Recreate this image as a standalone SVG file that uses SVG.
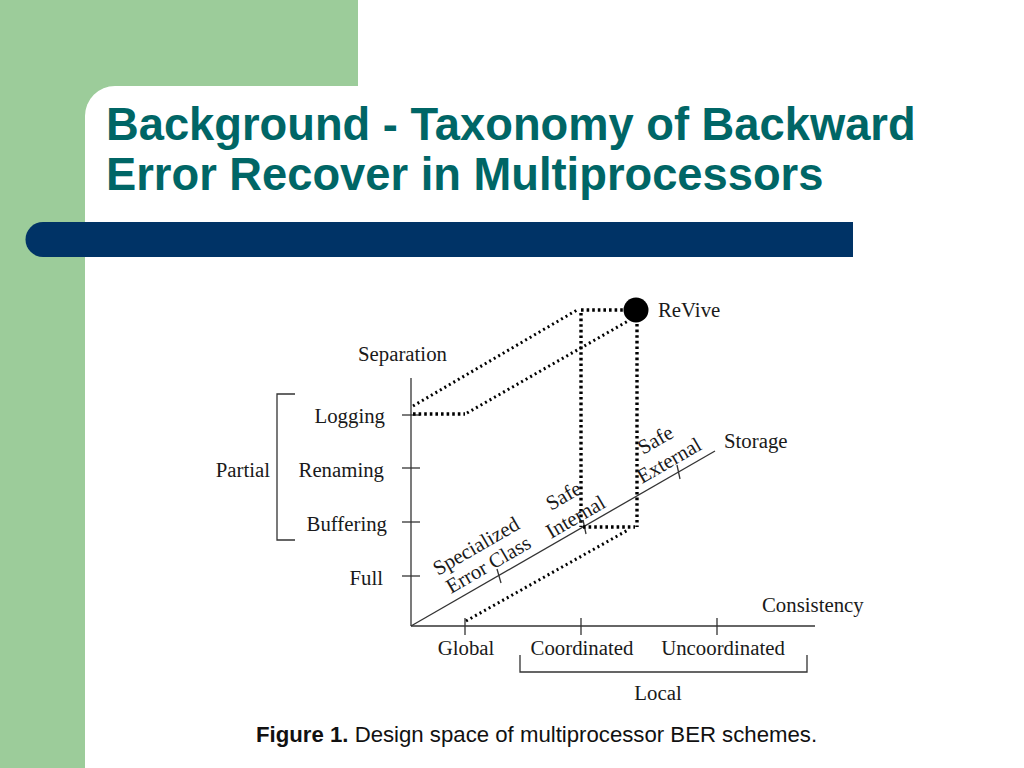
<svg xmlns="http://www.w3.org/2000/svg" width="1024" height="768" viewBox="0 0 1024 768">
<style>
.title{font-family:"Liberation Sans",Arial,sans-serif;font-weight:bold;font-size:45.3px;fill:#006666}
.t{font-family:"Liberation Serif","Times New Roman",serif;font-size:20.8px;fill:#1a1a1a}
.cap{font-family:"Liberation Sans",Arial,sans-serif;font-size:22.2px;fill:#111}
.ax{stroke:#333;stroke-width:1.3;fill:none}
.dot{stroke:#000;stroke-width:3.4;stroke-dasharray:2.6 3;fill:none}
.dotd{stroke:#000;stroke-width:3;stroke-dasharray:2 3.2;fill:none}
</style>
<rect width="1024" height="768" fill="#fff"/>
<rect x="0" y="0" width="358" height="768" fill="#9ccc9a"/>
<rect x="85" y="86" width="1000" height="720" rx="30" fill="#fff"/>
<path d="M43 222 H853 V257 H43 A17.5 17.5 0 0 1 43 222 Z" fill="#003366"/>
<g id="title">
<text class="title" x="106" y="140">Background - Taxonomy of Backward</text>
<text class="title" x="106" y="190">Error Recover in Multiprocessors</text>
</g>
<g id="axes">
<line class="ax" x1="411" y1="378" x2="411" y2="626"/>
<line class="ax" x1="411" y1="626" x2="815" y2="626"/>
<line class="ax" x1="411" y1="626" x2="715" y2="451"/>
<line class="ax" x1="402" y1="415" x2="420" y2="415"/>
<line class="ax" x1="402" y1="468" x2="420" y2="468"/>
<line class="ax" x1="402" y1="522" x2="420" y2="522"/>
<line class="ax" x1="402" y1="576" x2="420" y2="576"/>
<line class="ax" x1="465" y1="618" x2="465" y2="635"/>
<line class="ax" x1="581" y1="618" x2="581" y2="635"/>
<line class="ax" x1="717" y1="618" x2="717" y2="635"/>
<line class="ax" x1="497" y1="569" x2="501" y2="583"/>
<line class="ax" x1="583" y1="520" x2="586" y2="534"/>
<line class="ax" x1="677" y1="465" x2="680" y2="479"/>
<path class="ax" d="M295 394 H277 V540 H295"/>
<path class="ax" d="M520 655 V672 H807 V655"/>
</g>
<g id="connectors">
<line class="dot" x1="413" y1="414" x2="465" y2="414"/>
<line class="dotd" x1="413" y1="406" x2="577" y2="310"/>
<line class="dotd" x1="467" y1="413" x2="628" y2="321"/>
<line class="dot" x1="581" y1="310" x2="624" y2="310"/>
<line class="dot" x1="581" y1="313" x2="581" y2="527"/>
<line class="dot" x1="637" y1="324" x2="637" y2="527"/>
<line class="dot" x1="583" y1="527" x2="635" y2="527"/>
<line class="dotd" x1="466" y1="621" x2="628" y2="530"/>
</g>
<g id="revive">
<circle cx="636" cy="310" r="12.5" fill="#000"/>
<text class="t" x="658" y="317">ReVive</text>
</g>
<g id="labels">
<text class="t" x="358" y="361">Separation</text>
<text class="t" x="385" y="423" text-anchor="end">Logging</text>
<text class="t" x="384" y="477" text-anchor="end">Renaming</text>
<text class="t" x="387" y="531" text-anchor="end">Buffering</text>
<text class="t" x="383" y="585" text-anchor="end">Full</text>
<text class="t" x="270" y="477" text-anchor="end">Partial</text>
<text class="t" x="724" y="448">Storage</text>
<text class="t" x="762" y="612">Consistency</text>
<text class="t" x="466" y="655" text-anchor="middle">Global</text>
<text class="t" x="582" y="655" text-anchor="middle">Coordinated</text>
<text class="t" x="723" y="655" text-anchor="middle">Uncoordinated</text>
<text class="t" x="658" y="700" text-anchor="middle">Local</text>
<text class="t" transform="translate(438,576) rotate(-30)">Specialized</text>
<text class="t" transform="translate(451,594) rotate(-30)">Error Class</text>
<text class="t" transform="translate(551,511) rotate(-30)">Safe</text>
<text class="t" transform="translate(551,539) rotate(-30)">Internal</text>
<text class="t" transform="translate(643,455) rotate(-30)">Safe</text>
<text class="t" transform="translate(642,484) rotate(-30)">External</text>
</g>
<g id="caption">
<text class="cap" x="256" y="742"><tspan font-weight="bold">Figure 1.</tspan> Design space of multiprocessor BER schemes.</text>
</g>
</svg>
